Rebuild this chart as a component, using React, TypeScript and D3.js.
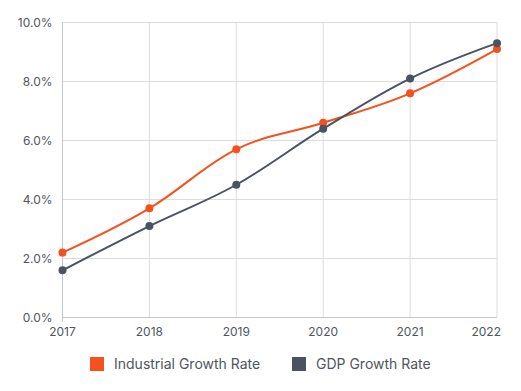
import React from 'react';
import * as d3 from 'd3';

const years = ['2017', '2018', '2019', '2020', '2021', '2022'];
const industrialGrowth = [2.2, 3.7, 5.7, 6.6, 7.6, 9.1];
const gdpGrowth = [1.6, 3.1, 4.5, 6.4, 8.1, 9.3];
const yTicks = [0, 2, 4, 6, 8, 10];

const series = [
  { name: 'Industrial Growth Rate', values: industrialGrowth, color: '#F4511E' },
  { name: 'GDP Growth Rate', values: gdpGrowth, color: '#4B5261' },
];

const W = 521;
const H = 391;
const margin = { top: 22.5, right: 24, bottom: 73.5, left: 62.5 };
const font = 'Inter, "Noto Sans", sans-serif';

export default function App() {
  const innerW = W - margin.left - margin.right;
  const innerH = H - margin.top - margin.bottom;

  const x = d3.scalePoint<string>().domain(years).range([0, innerW]);
  const y = d3.scaleLinear().domain([0, 10]).range([innerH, 0]);

  const line = d3
    .line<number>()
    .x((_, i) => x(years[i]) as number)
    .y(d => y(d))
    .curve(d3.curveCardinal.tension(-0.1));

  return (
    <svg
      width={W}
      height={H}
      style={{ position: 'absolute', left: 0, top: 0, background: '#fff' }}
      fontFamily={font}
    >
      <g transform={`translate(${margin.left},${margin.top})`}>
        {/* horizontal grid */}
        {yTicks.map(t => (
          <line key={'h' + t} x1={0} x2={innerW} y1={y(t)} y2={y(t)} stroke="#dcdcdc" strokeWidth={1} />
        ))}
        {/* vertical grid */}
        {years.map(yr => (
          <line key={'v' + yr} x1={x(yr)} x2={x(yr)} y1={0} y2={innerH} stroke="#dcdcdc" strokeWidth={1} />
        ))}
        {/* axes */}
        <line x1={0} x2={0} y1={0} y2={innerH + 4} stroke="#c4c7cc" />
        <line x1={0} x2={innerW} y1={innerH} y2={innerH} stroke="#c4c7cc" />

        {yTicks.map(t => (
          <text
            key={'yl' + t}
            x={-10}
            y={y(t)}
            dy="0.35em"
            textAnchor="end"
            fontSize={12}
            fill="#50555d"
          >
            {t.toFixed(1) + '%'}
          </text>
        ))}
        {years.map((yr, i) => {
          const last = i === years.length - 1;
          return (
            <text
              key={'xl' + yr}
              x={last ? innerW + 4 : x(yr)}
              y={innerH + 18}
              textAnchor={last ? 'end' : 'middle'}
              fontSize={12}
              fill="#50555d"
            >
              {yr}
            </text>
          );
        })}

        {series.map(s => (
          <g key={s.name}>
            <path d={line(s.values) || ''} fill="none" stroke={s.color} strokeWidth={2} />
            {s.values.map((v, i) => (
              <circle key={i} cx={x(years[i])} cy={y(v)} r={4} fill={s.color} />
            ))}
          </g>
        ))}
      </g>

      {/* legend */}
      <g transform="translate(90,357)">
        <rect x={0} y={0} width={14} height={14} fill={series[0].color} />
        <text x={24} y={12} fontSize={14} fill="#50555d">{series[0].name}</text>
        <rect x={202} y={0} width={14} height={14} fill={series[1].color} />
        <text x={226} y={12} fontSize={14} fill="#50555d">{series[1].name}</text>
      </g>
    </svg>
  );
}
